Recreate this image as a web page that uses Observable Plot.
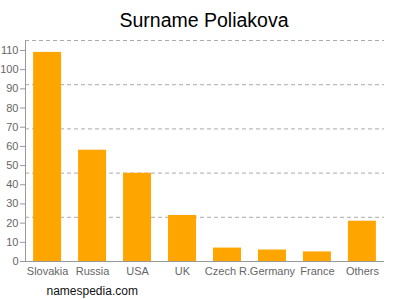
<!DOCTYPE html>
<html><head><meta charset="utf-8">
<script src="https://cdn.jsdelivr.net/npm/d3@7"></script>
<script src="https://cdn.jsdelivr.net/npm/@observablehq/plot@0.6"></script>
<style>body{margin:0;background:#fff;font-family:"Liberation Sans",Arial,sans-serif;}</style>
</head><body><div id="chart"></div>
<script>
const countries = ["Slovakia","Russia","USA","UK","Czech R.","Germany","France","Others"];
const counts = [109,58,46,24,7,6,5,21];
const yTicks = [0,10,20,30,40,50,60,70,80,90,100,110];
const yMax = 115.2;
const gridValues = [1,2,3,4,5].map(i => yMax*i/5);
const title = "Surname Poliakova";
const footer = "namespedia.com";

const data = countries.map((c,i)=>({country:c, count:counts[i]}));

const chart = Plot.plot({
  width: 400, height: 300,
  marginLeft: 25, marginRight: 16, marginTop: 40, marginBottom: 39,
  style: {fontFamily: '"Liberation Sans", Arial, sans-serif', background: "#fff"},
  x: {domain: countries, paddingInner: 0.378, paddingOuter: 0.18, round: false, label: null},
  y: {domain: [0, yMax], label: null},
  marks: [
    Plot.ruleY(gridValues, {stroke: "#aaa", strokeDasharray: "4,3", strokeWidth: 1}),
    Plot.barY(data, {x: "country", y: "count", fill: "#ffa500"}),
    Plot.frame({anchor: "left", stroke: "#999"}),
    Plot.axisY({ticks: yTicks, tickSize: 5, tickPadding: 2, fontSize: 11, color: "#666", stroke: "#999", label: null}),
    Plot.axisX({tickSize: 0, tickPadding: 6, fontSize: 11, color: "#666", label: null}),
    Plot.ruleY([0], {stroke: "#999"}),
    Plot.text([title], {frameAnchor: "top", dy: -27, fontSize: 19.5, fill: "#000", textAnchor: "middle", dx: -1}),
    Plot.text([footer], {frameAnchor: "bottom-left", dy: 33, dx: 21, fontSize: 12, fill: "#111", textAnchor: "start"})
  ]
});
document.getElementById("chart").appendChild(chart);
</script></body></html>
